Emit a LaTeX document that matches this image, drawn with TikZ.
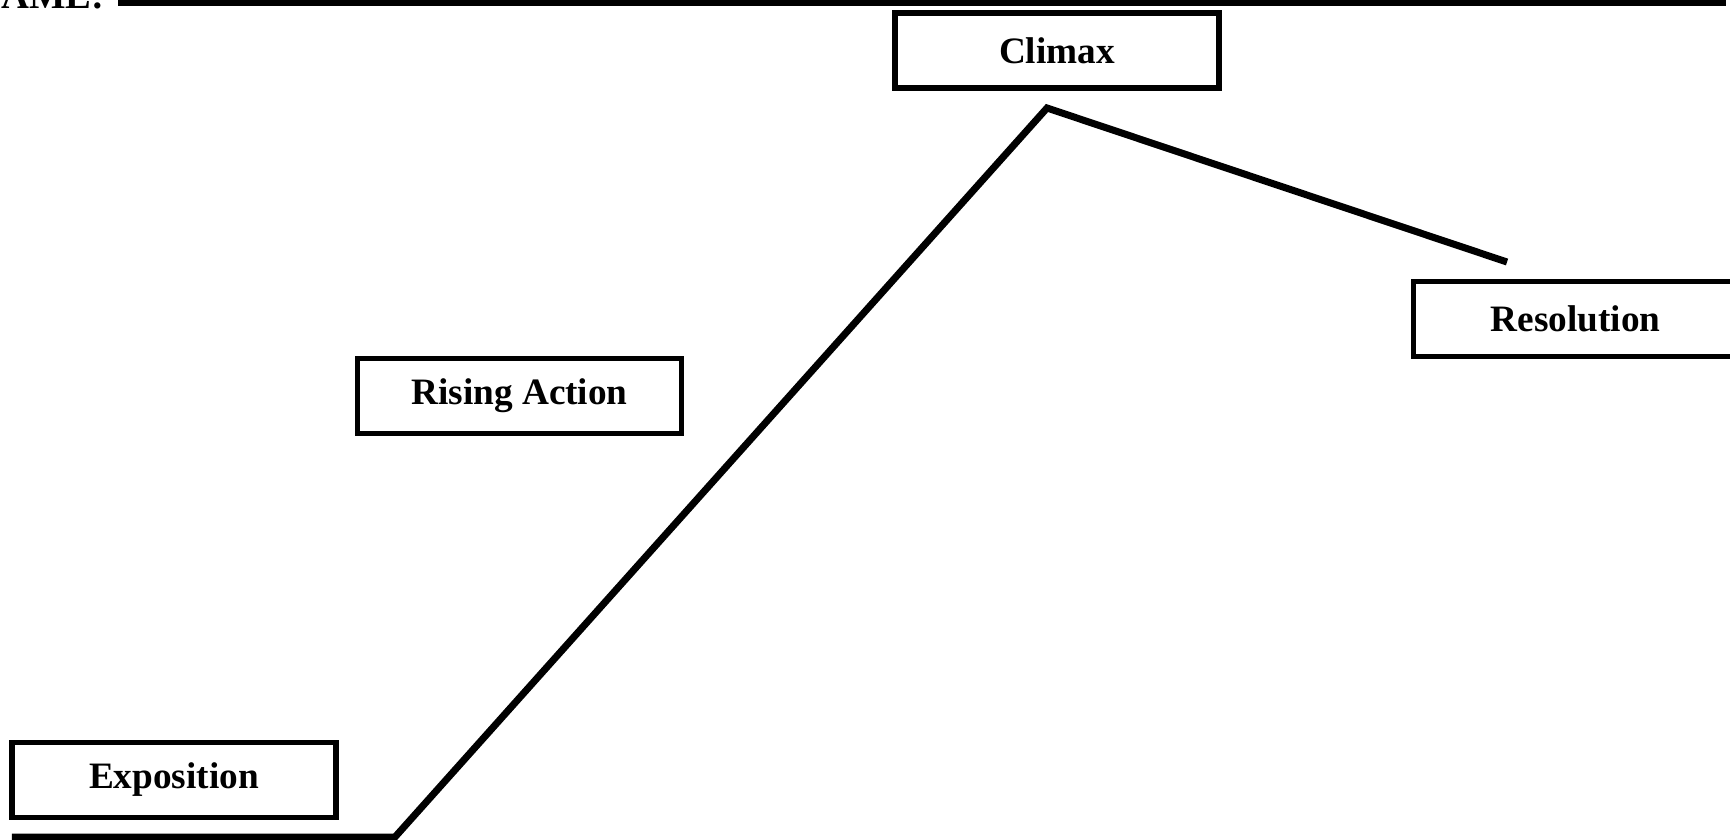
\documentclass[tikz,border=0pt]{standalone}
\usepackage{fontspec}
\setmainfont{Liberation Serif}
\usepackage{tikz}

\tikzset{stage/.style={draw,line width=1.6pt,minimum width=3.24cm,minimum height=0.75cm,
  inner sep=0pt,font=\fontsize{10.6}{12}\selectfont\bfseries}}

\begin{document}
\begin{tikzpicture}
\useasboundingbox (0,0) rectangle (17.3,8.39);
\node[anchor=base east,inner sep=0pt,font=\fontsize{11}{12}\selectfont\bfseries] (name) at (1.05,8.30) {NAME:};
\coordinate (nl) at (1.18,8.36);
\coordinate (nr) at (17.26,8.36);
\draw[line width=1.9pt] (nl) -- (nr);

\node[stage] (expo) at (1.74,0.59) {Exposition};
\node[stage] (rise) at (5.195,4.43) {Rising Action};
\node[stage] (climax) at (10.57,7.885) {Climax};
\node[stage] (resol) at (15.755,5.20) {Resolution};

\coordinate (start) at (0.12,0.02);
\coordinate (knee) at (3.95,0.02);
\coordinate (peak) at (10.47,7.31);
\coordinate (end) at (15.07,5.77);
\draw[line width=2pt] (start) -- (knee) -- (peak) -- (end);
\end{tikzpicture}
\end{document}
